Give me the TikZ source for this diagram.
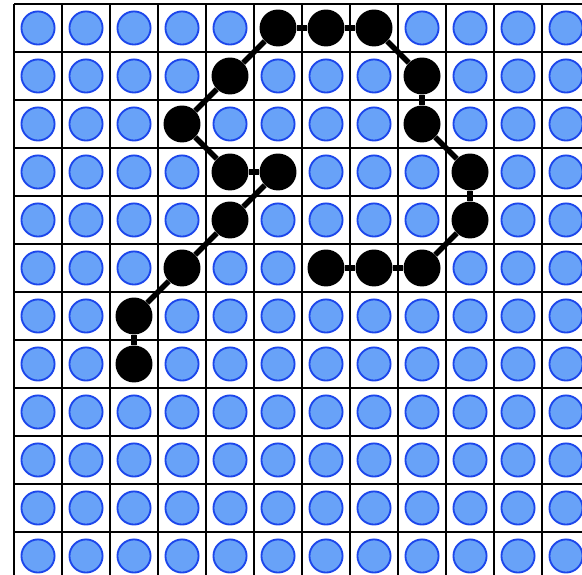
\documentclass[tikz,border=0pt]{standalone}
\definecolor{cellblue}{RGB}{104,162,248}
\definecolor{rimblue}{RGB}{28,70,235}
\usepackage{tikz}
\usetikzlibrary{calc, positioning}

\begin{document}
\begin{tikzpicture}[
  cell/.style={circle, draw=rimblue, fill=cellblue, line width=1.1pt,
    minimum size=0.69cm, inner sep=0pt},
  dot/.style={circle, fill=black, minimum size=0.77cm, inner sep=0pt},
  link/.style={line width=3.2pt, black},
  gridline/.style={line width=1.2pt, black},
]
% ---- frame (picture proportions) ----
\useasboundingbox (-0.292,0.083) rectangle (11.833,-11.896);
\clip (-0.292,0.083) rectangle (11.833,-11.896);

% ---- grid ----
\draw[gridline] (0,-12.5) grid (12.5,0);

% ---- blue cells ----
\foreach \i in {0,...,11}
  \foreach \j in {0,...,11}
    \node[cell] (c-\i-\j) at (\i+0.5,-\j-0.5) {};

% ---- black stroke ----
\foreach \c/\r [count=\k] in {2/7, 2/6, 3/5, 4/4, 5/3, 4/3, 3/2, 4/1, 5/0,
                               6/0, 7/0, 8/1, 8/2, 9/3, 9/4, 8/5, 7/5, 6/5}
  \node[dot] (p\k) at (\c+0.5,-\r-0.5) {};

\foreach \k [remember=\k as \j (initially 1)] in {2,...,18}
  \draw[link] (p\j) -- (p\k);

\end{tikzpicture}
\end{document}
